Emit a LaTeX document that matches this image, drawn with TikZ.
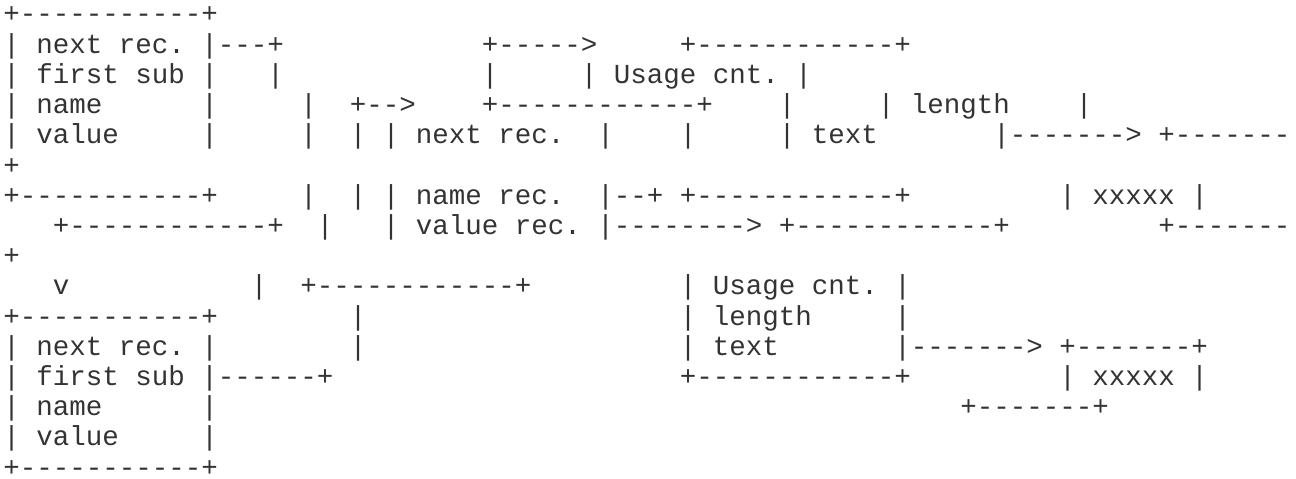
\documentclass[tikz,border=0pt]{standalone}
\usepackage{fontspec}
\setmonofont{Liberation Mono}
\begin{document}
\begin{tikzpicture}[x=16.5pt,y=-30.2pt,
   seg/.style={anchor=base west,inner sep=0pt,outer sep=0pt,text=black!80,
     font=\ttfamily\frenchspacing\fontsize{27.5pt}{30pt}\selectfont}]
   \useasboundingbox (-3.45pt,23pt) rectangle (1292.55pt,-456pt);
   % first record
   \node [seg] (l1a) at (0,0) {+-----------+};
   \node [seg] (l2a) at (0,1) {| next rec. |---+};
   \node [seg] (l2b) at (29,1) {+----->};
   \node [seg] (l2c) at (41,1) {+------------+};
   \node [seg] (l3a) at (0,2) {| first sub |};
   \node [seg] (l3b) at (16,2) {|};
   \node [seg] (l3c) at (29,2) {|};
   \node [seg] (l3d) at (35,2) {| Usage cnt. |};
   \node [seg] (l4a) at (0,3) {| name~~~~~~|};
   \node [seg] (l4b) at (18,3) {|};
   \node [seg] (l4c) at (21,3) {+-->};
   \node [seg] (l4d) at (29,3) {+------------+};
   \node [seg] (l4e) at (47,3) {|};
   \node [seg] (l4f) at (53,3) {| length~~~~|};
   \node [seg] (l5a) at (0,4) {| value~~~~~|};
   \node [seg] (l5b) at (18,4) {|};
   \node [seg] (l5c) at (21,4) {|};
   \node [seg] (l5d) at (23,4) {| next rec.~~|};
   \node [seg] (l5e) at (41,4) {|};
   \node [seg] (l5f) at (47,4) {| text~~~~~~~|------->};
   \node [seg] (l5g) at (70,4) {+-------};
   \node [seg] (l6a) at (0,5) {+};
   \node [seg] (l7a) at (0,6) {+-----------+};
   \node [seg] (l7b) at (18,6) {|};
   \node [seg] (l7c) at (21,6) {|};
   \node [seg] (l7d) at (23,6) {| name rec.~~|--+};
   \node [seg] (l7e) at (41,6) {+------------+};
   \node [seg] (l7f) at (64,6) {| xxxxx |};
   \node [seg] (l8a) at (3,7) {+------------+};
   \node [seg] (l8b) at (19,7) {|};
   \node [seg] (l8c) at (23,7) {| value rec. |-------->};
   \node [seg] (l8d) at (47,7) {+------------+};
   \node [seg] (l8e) at (70,7) {+-------};
   \node [seg] (l9a) at (0,8) {+};
   % second record
   \node [seg] (l10a) at (3,9) {v};
   \node [seg] (l10b) at (15,9) {|};
   \node [seg] (l10c) at (18,9) {+------------+};
   \node [seg] (l10d) at (41,9) {| Usage cnt. |};
   \node [seg] (l11a) at (0,10) {+-----------+};
   \node [seg] (l11b) at (21,10) {|};
   \node [seg] (l11c) at (41,10) {| length~~~~~|};
   \node [seg] (l12a) at (0,11) {| next rec. |};
   \node [seg] (l12b) at (21,11) {|};
   \node [seg] (l12c) at (41,11) {| text~~~~~~~|------->};
   \node [seg] (l12d) at (64,11) {+-------+};
   \node [seg] (l13a) at (0,12) {| first sub |------+};
   \node [seg] (l13b) at (41,12) {+------------+};
   \node [seg] (l13c) at (64,12) {| xxxxx |};
   \node [seg] (l14a) at (0,13) {| name~~~~~~|};
   \node [seg] (l14b) at (58,13) {+-------+};
   \node [seg] (l15a) at (0,14) {| value~~~~~|};
   \node [seg] (l16a) at (0,15) {+-----------+};
\end{tikzpicture}
\end{document}
